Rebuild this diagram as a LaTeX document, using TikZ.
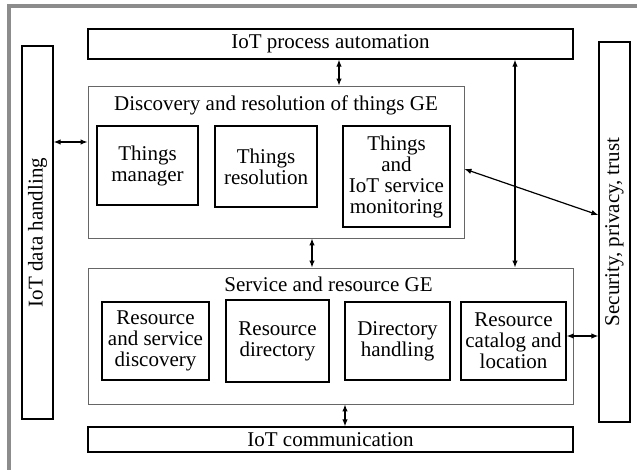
\documentclass[tikz,border=0pt]{standalone}
\usepackage{fontspec}
\setmainfont{Liberation Serif}
\usepackage{tikz}
\usetikzlibrary{arrows.meta,positioning}

\begin{document}
\begin{tikzpicture}
    [x=1pt,y=-1pt,
     font=\fontsize{21}{21}\selectfont,
     layer/.style={rectangle,draw=black,line width=1.3pt,inner sep=0pt},
     group/.style={rectangle,draw=black!60,line width=0.9pt,inner sep=0pt},
     block/.style={rectangle,draw=black,line width=1.3pt,align=center,inner sep=0pt},
     link/.style={{Latex[length=7pt,width=5.5pt]}-{Latex[length=7pt,width=5.5pt]},line width=1.2pt}]
    \useasboundingbox (0,0) rectangle (637,470);
    \draw[black!45,line width=3.5pt] (9,470) -- (9,6) -- (637,6);

    \node (proc) at (330.5,44) [layer,minimum width=485,minimum height=30] {IoT process automation};
    \node (comm) at (330.5,439.5) [layer,minimum width=485,minimum height=25] {IoT communication};
    \node (datah) at (37.5,232.5) [layer,minimum width=31,minimum height=373] {\rotatebox{90}{IoT data handling}};
    \node (sec) at (614.5,232) [layer,minimum width=31,minimum height=380] {\rotatebox{90}{Security, privacy, trust}};

    \node (disc) at (276,162) [group,minimum width=376,minimum height=152] {};
    \node (disct) at (276,105) {Discovery and resolution of things GE};
    \node (tm) at (147.5,165.5) [block,minimum width=101,minimum height=79] {Things\\manager};
    \node (tr) at (266,166.5) [block,minimum width=102,minimum height=81] {Things\\resolution};
    \node (tmon) at (396.5,176.5) [block,minimum width=107,minimum height=101] {Things\\and\\IoT service\\monitoring};

    \node (serv) at (330.5,336) [group,minimum width=485,minimum height=136] {};
    \node (servt) at (328.5,284) {Service and resource GE};
    \node (rsd) at (155.5,341) [block,minimum width=107,minimum height=78] {Resource\\and service\\discovery};
    \node (rd) at (277.5,341) [block,minimum width=103,minimum height=82] {Resource\\directory};
    \node (dh) at (397.5,341) [block,minimum width=105,minimum height=78] {Directory\\handling};
    \node (rcl) at (513.5,341) [block,minimum width=105,minimum height=78] {Resource\\catalog and\\location};

    \draw[link] ([xshift=8.5pt]proc.south) -- ([xshift=63pt]disc.north);
    \draw[link] ([xshift=184.5pt]proc.south) -- ([xshift=184.5pt]serv.north);
    \draw[link] ([yshift=90.5pt]datah.east) -- ([yshift=20pt]disc.west);
    \draw[link] ([yshift=-7pt]disc.east) -- ([yshift=17pt]sec.west);
    \draw[link] ([xshift=36pt]disc.south) -- ([xshift=-18.5pt]serv.north);
    \draw[link] ([yshift=5pt]rcl.east) -- ([yshift=-104pt]sec.west);
    \draw[link] ([xshift=14.5pt]serv.south) -- ([xshift=14.5pt]comm.north);
\end{tikzpicture}
\end{document}
